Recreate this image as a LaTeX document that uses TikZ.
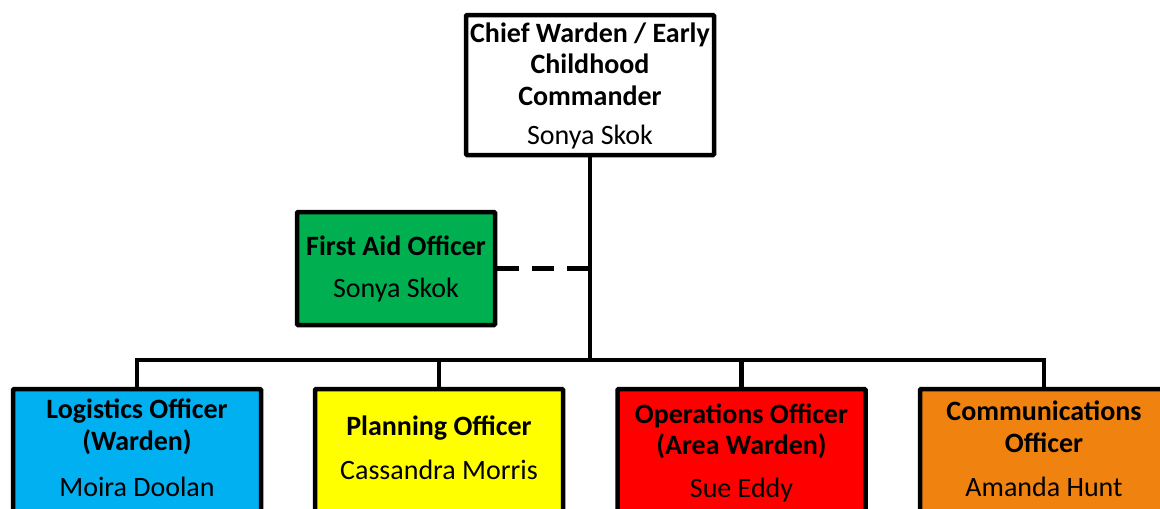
\documentclass[tikz,border=0pt]{standalone}
\usepackage{fontspec}
\setmainfont{Carlito}
\definecolor{cblue}{RGB}{0,176,240}
\definecolor{cyellow}{RGB}{255,255,0}
\definecolor{cred}{RGB}{255,0,0}
\definecolor{corange}{RGB}{240,130,16}
\definecolor{cgreen}{RGB}{0,176,80}
\begin{document}
\begin{tikzpicture}[x=1pt,y=-1pt,
  box/.style={draw=black,line width=4.5pt,rounded corners=1pt,inner sep=0pt,minimum width=248pt},
  title/.style={font=\fontsize{28}{31.5}\selectfont\bfseries,align=center,inner sep=0pt},
  person/.style={font=\fontsize{28}{31.5}\selectfont,inner sep=0pt},
  conn/.style={line width=4.5pt,line join=miter}]
\useasboundingbox (0,0) rectangle (1160,509);
\clip (0,0) rectangle (1160,509);
% boxes
\node[box,fill=white,minimum height=140pt] (chief) at (590,85) {};
\node[box,fill=cgreen,minimum width=198pt,minimum height=113pt] (fa) at (396,268.5) {};
\node[box,fill=cblue,minimum height=150pt] (log) at (137,464) {};
\node[box,fill=cyellow,minimum height=150pt] (plan) at (439,464) {};
\node[box,fill=cred,minimum height=150pt] (ops) at (741.5,464) {};
\node[box,fill=corange,minimum height=150pt] (com) at (1044,464) {};
% texts
\node[title] (chieft) at (590,64) {Chief Warden / Early\\Childhood\\Commander};
\node[person] (chiefn) at (590,137) {Sonya Skok};
\node[title] (fat) at (396,246) {First Aid Officer};
\node[person] (fan) at (396,290) {Sonya Skok};
\node[title] (logt) at (137,427) {Logistics Officer\\(Warden)};
\node[person] (logn) at (137,487) {Moira Doolan};
\node[title] (plant) at (439,428) {Planning Officer};
\node[person] (plann) at (439,470) {Cassandra Morris};
\node[title] (opst) at (741.5,431.5) {Operations Officer\\(Area Warden)};
\node[person] (opsn) at (741.5,490) {Sue Eddy};
\node[title] (comt) at (1044,427) {Communications\\Officer};
\node[person] (comn) at (1044,487) {Amanda Hunt};
% connectors
\coordinate (bus) at (590,360);
\draw[conn] (chief.south) -- (chief.south|-bus);
\draw[conn] (log.north) |- (com.north|-bus) -- (com.north);
\draw[conn] (plan.north) -- (plan.north|-bus);
\draw[conn] (ops.north) -- (ops.north|-bus);
\draw[line width=4.5pt,dash pattern=on 22pt off 13pt] (fa.east) -- (fa.east-|chief.south);
\end{tikzpicture}
\end{document}
